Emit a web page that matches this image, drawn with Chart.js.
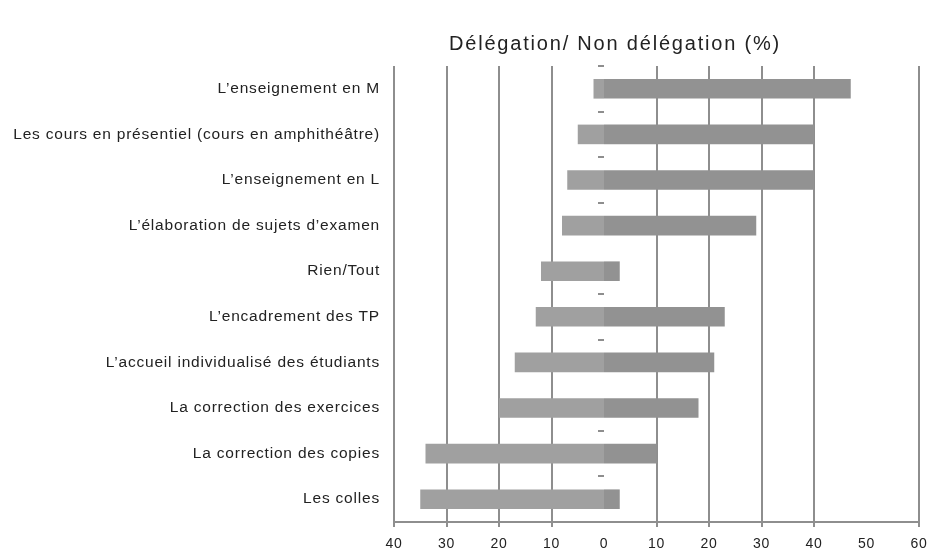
<!DOCTYPE html>
<html>
<head>
<meta charset="utf-8">
<script src="https://cdn.jsdelivr.net/npm/chart.js@4/dist/chart.umd.min.js"></script>
<style>
  html, body { margin: 0; padding: 0; background: #ffffff; }
  #wrap { position: relative; width: 938px; height: 557px; }
</style>
</head>
<body>
<div id="wrap"><canvas id="c"></canvas></div>
<script>
// ---- data ----
const chartTitle = "Délégation/ Non délégation (%)";
const categories = [
  "L’enseignement en M",
  "Les cours en présentiel (cours en amphithéâtre)",
  "L’enseignement en L",
  "L’élaboration de sujets d’examen",
  "Rien/Tout",
  "L’encadrement des TP",
  "L’accueil individualisé des étudiants",
  "La correction des exercices",
  "La correction des copies",
  "Les colles"
];
const delegation    = [2, 5, 7, 8, 12, 13, 17, 20, 34, 35];   // drawn to the left
const nonDelegation = [47, 40, 40, 29, 3, 23, 21, 18, 10, 3]; // drawn to the right
const xMin = -40, xMax = 60, xStep = 10;

// ---- styling ----
const gridColor = '#8e8e8e';
const hiddenGridValues = [0, 50];
const hiddenDashIndexes = [4, 7];
const TRANSPARENT = 'rgba(0,0,0,0)';

Chart.defaults.font.family = '"Liberation Sans", Arial, sans-serif';

const spacingPlugin = {
  id: 'spacing',
  beforeLayout(chart) { chart.ctx.letterSpacing = '0.8px'; },
  beforeDraw(chart) { chart.ctx.letterSpacing = '0.8px'; }
};

const titlePlugin = {
  id: 'placedTitle',
  afterDraw(chart, args, opts) {
    const ctx = chart.ctx;
    ctx.save();
    ctx.font = opts.font;
    ctx.letterSpacing = opts.letterSpacing;
    ctx.fillStyle = opts.color;
    ctx.textAlign = 'center';
    ctx.textBaseline = 'alphabetic';
    ctx.fillText(opts.text, opts.x, opts.y);
    ctx.restore();
  }
};

const isHiddenGrid = (c) => !!(c.tick && hiddenGridValues.includes(c.tick.value));
const gridColorFn = (c) => isHiddenGrid(c) ? TRANSPARENT : gridColor;
const gridWidthFn = (c) => isHiddenGrid(c) ? 0 : 2;
const dashColorFn = (c) => (c.index !== undefined && hiddenDashIndexes.includes(c.index)) ? TRANSPARENT : gridColor;

new Chart(document.getElementById('c'), {
  type: 'bar',
  data: {
    labels: categories,
    datasets: [
      {
        label: 'Délégation',
        data: delegation.map(v => -v),
        backgroundColor: '#a0a0a0',
        borderWidth: 0,
        inflateAmount: 0,
        categoryPercentage: 1,
        barPercentage: 0.43
      },
      {
        label: 'Non délégation',
        data: nonDelegation,
        backgroundColor: '#929292',
        borderWidth: 0,
        inflateAmount: 0,
        categoryPercentage: 1,
        barPercentage: 0.43
      }
    ]
  },
  options: {
    indexAxis: 'y',
    responsive: true,
    maintainAspectRatio: false,
    animation: false,
    layout: { padding: { left: 10, right: 19, top: 66, bottom: 5 } },
    plugins: {
      legend: { display: false },
      tooltip: { enabled: false },
      title: { display: false },
      placedTitle: {
        text: chartTitle,
        font: '20px "Liberation Sans", Arial, sans-serif',
        letterSpacing: '1.8px',
        color: '#222222',
        x: 615,
        y: 50
      }
    },
    scales: {
      x: {
        type: 'linear',
        stacked: true,
        min: xMin,
        max: xMax,
        ticks: {
          stepSize: xStep,
          padding: 9,
          color: '#222222',
          font: { size: 14 },
          callback: (v) => Math.abs(v)
        },
        grid: {
          color: gridColorFn,
          tickColor: gridColorFn,
          lineWidth: gridWidthFn,
          tickLength: 5
        },
        border: { display: true, color: gridColor, width: 2 },
        afterFit: (s) => { s.height = 30; }
      },
      y: {
        type: 'category',
        stacked: true,
        offset: true,
        grid: { display: false, drawTicks: false, offset: true },
        border: { display: false },
        ticks: { padding: 14, color: '#222222', font: { size: 15.5 } },
        afterFit: (s) => { s.width = 384; }
      },
      y2: {
        type: 'category',
        axis: 'y',
        position: { x: 0 },
        offset: true,
        ticks: { display: false },
        grid: {
          display: true,
          offset: true,
          drawOnChartArea: false,
          drawTicks: true,
          tickLength: 6,
          lineWidth: 2,
          tickColor: dashColorFn,
          color: dashColorFn
        },
        border: { display: false },
        afterFit: (s) => { s.width = 0; }
      }
    }
  },
  plugins: [spacingPlugin, titlePlugin]
});
</script>
</body>
</html>
